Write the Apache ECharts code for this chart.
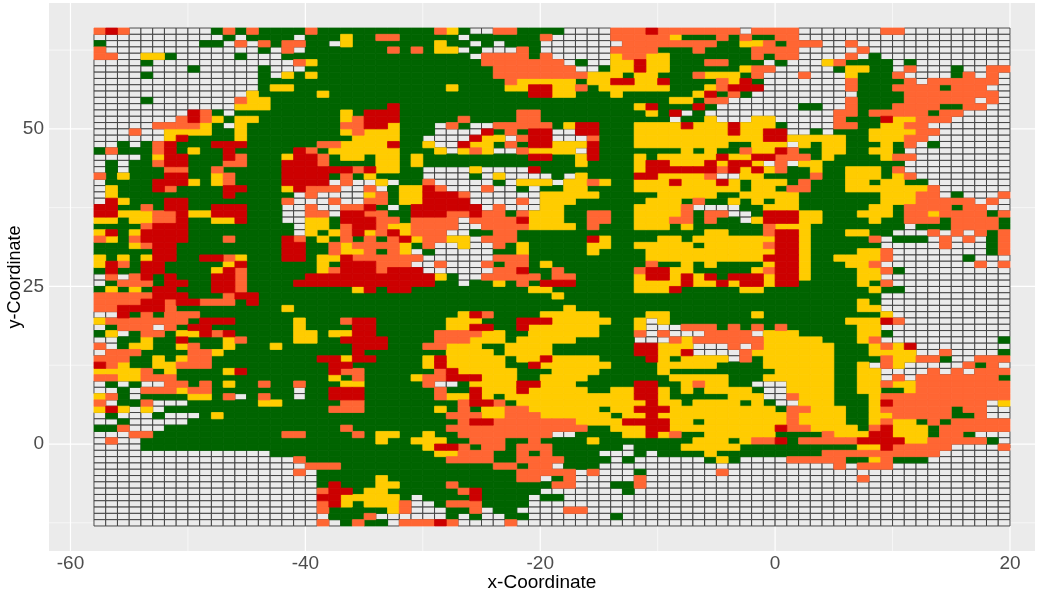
<!DOCTYPE html>
<html><head><meta charset="utf-8">
<style>html,body{margin:0;padding:0;background:#fff}#c{width:1042px;height:594px}</style>
<script src="https://cdn.jsdelivr.net/npm/echarts@6/dist/echarts.min.js"></script>
</head><body><div id="c"></div>
<script>
// Run-length rows, top (y 65..66) to bottom (y -13..-12). W empty, G green, Y yellow, O orange, R red
const blockA=["ORO7WGOGO4GOG","11WGW4GW2G","G8W2GWOWOG2O2G","O13WGWOW2G","2O2W2YG5WG3W4G","4WG12WOYG","8WG5WG3W2G","4WG9WGWYGYG","14W6G","14WG2Y3G","13WY5GY","4WG7WO2Y5G","12W3Y5G","8WROGW8G","7WOROYG2Y6G","5W4OYGWY7G","3WO2W4Y2GY7G","6WYR4GY7G","2WGWGOR3G3R6GO","GO3GORGY2GR5GROG","4WGY2R3GRO3GY2RO","WGW2GO2R3G2O3G3RO","WGW3G2O2GO5G4R","OGY3G2R2GYO4G4R","W4G3RYGYO4G4R","WY3GRO4G2R3GYR2O","WY9GR5GWOW","WRY3G2R8GO3W","2R2GOG2R2G3R3G2WOW","2R3Y2OR2Y3R3G2W2O","2YG2Y2OR2G2YR3G2W2Y","4GO3R9GW2Y","YRGY4R9GWYG","OYGO4R3GO4GROGY","3GYO2R9G2R2G","5G2R9G2R2G","YGYGY2R2G2ROY3G2RGY","YROG2R5GYR6GY","GR2G2R4GYRO6GY","WOWORGR3G2RO5G2R","WG3OG2R2G2RO4G3R","GYGYG2R3G2RO7G","5O3R3GO2R6G","4O2RO2R3OGR6G","2O4RO9GY3G","2WRGOG3O11G","Y7OG3R5GY2G","WG3OWOG2R7GY2G","GYWG2OG2YROR5G2YG","2W2GY2GR3GYO4G2YG","OWG2Y2GYO2GY3GY4G","W3O4G2OY9G","3O2GYGY2O9GR","ROY2G2Y3O10G","4YOGY4GYR7G","2O2Y3O13G","WGWG2W2OGOGY2GO2GO2G","2WGW3OY2O7GW2G","YOGW4G2YGOWGO2GW2G","OW2GO3W6G2Y4G","YRYWYW14G","WG3WG3WGY9G","2WG5W12G","2GO3W14G","3W2O11G2O2G","WO2W16G","4W16G","15W5G","17WO2G","18W2O","17WOWG","19WG","19WG","19WO","19WR","19WO","19WO","20W","19WO"];
const blockB=["9GOYG2W2O4G","GY2G2O5GW6GOW","WY7GY2GWGW3G2W","5GOGOG2YWG3WOG2W","12GW4OGOW","13G7O","14G6O","14G6O","15GO4Y","10GY4G2Y2RY","17G2RY","20G","5GR14G","GYG3R10G2O2G","GYO3R5GO4G2O2G","G2O2RY3GWOG2W5OG","GYO3Y3G4WRGOG2RW","2G4Y2G4WR2YWO2RW","O4YR2GY2WR2YGOG2RY","6Y3GYWYOY2WO3Y","G2YG2YGY9G2RG","4G2YGY12G","2ROR2Y2G4WY4WR2G","GOGY4G4WGWY4WG","WO2WYW2GO5WGW3YW","O2WOWG2YRO3WO2WGW2G","3WYOG2Y3RO6W2Y","O2W2OG2Y4R4WOW2Y","W2ORGWG6RWO3W2Y","W2R2O2G3R2OR2OGO3Y","G3R2OG4OW4OR3Y","GO2RO2Y4O2W4O3Y","YORYORY3O2W2G2O4G","GOGOGORY2O2YW3O4G","OY4OYGO2WY2WOGY3G","O2YOGOYWG5W2GY3G","YR6O6W3O3G","G3R3O2WO3WOG2OGYG","O3RO3R6W2OR2GO","9RYG2W5OGO","9R2GW2GYGOG2R","2GYRG2R10G2YG","19GY","20G","20G","11GYRO4G2Y","GO2R6G3Y3G3RY","2G2R6G2Y2R2GR3Y","2Y2R5G4O2Y2G3Y","G4R4G3O3YG4Y","2G3R3G2O3Y2G4YG","2GR7G4YG4YG","RY2R4GYR5YG2YRY","2R6GYR5Y2GR2Y","R2O6GOR5Y3GY","YGO4GY2O3R3Y2G2Y","G2Y5GO2WG4Y2R2Y","3R6GO2GR3YR3Y","3R6GO2YRYG5Y","G2O8GO2ROG4Y","3O6GYGOG2Y2O3Y","10G3O2Y3O2Y","11GO2R6O","GO8G10O","2GOG2Y2GY2G8OW","4GY2G3Y2G3O2GO2G","8GY2ROG2OG3OG","9G2Y3O2GOGOG","10G4O2G4O","O13G2OG2OW","16G4O","4GY11G2OWG","R3G2Y4GO8GO","2RG2Y6GOR5G2W","R5YGW4GR4GW2G","RYG3YO2WG3O4G3W","5GYO3W2GOW2G4W","3GO6WGWG2W2G3W","WGO2GW3ORO4WO4W"];
const blockC=["4W3OR7OW4O","4W5OY3GOGO2G2O","5W8O2G2YOGO","4W4O3GO4G4O","4WY2O2Y7GOG2O","WG2W2YR2Y3G2O3GWGW","O2WG2YR2Y6GY2O2W","2O3YG2Y3GO3YGO3W","YG2Y2R2YR4GOYRG3W","YOG6Y3GYO3R3W","Y3GY6GYRGOG4W","9G2YG2O6W","6GYR3GRG7W","7GYGRWG8W","9GW2GY3W2Y2W","Y2R3G4YR3YR3YGW","W2R3G8YR2Y2RW","2WO3G11Y2RY","2YR3G8Y2G3YW","YWR7GYGY2GO2YRO","GYR3GYG5YR2Y2R2O","GY4GY2R3YRY2RYWOW","6GY6RORYRYOG","WY4G2R4YO2W2Y3G","2YOY2G3YR3YRYG3YG","2Y4G9YG2YGO","3Y5G5Y2G5Y","Y6G3YGO2GYGYG2Y","6G4YO4W2G3Y","2G2O2G4YOG2O2WG3R","2G2O2G3Y2OGO2GWY3R","YGO3G3YGY6GO2Y","12G2Y3GO2R","2GRY4G2YG7Y2R","2G2Y2G5YG5YO2R","2GY4G11Y2R","7G10Y3R","7GO2GYGY4GY2R","6GO2R2Y5GYO2R","O5GY2RYRYRG3RY2R","R5G4YR2YRY2RY2R","6G3YR5G2Y3G","20G","20G","Y19G","3Y4G2Y7GY3G","4Y2GYWY11G","3Y3GY3W3OGOGOGOG","3Y3GOWO3W4OW3Y","Y5G3WOY6O3Y","6G2R3Y3WOWO3Y","6G2R2YR4WO4Y","3Y4GRYG4YWOG3Y","4Y4G5Y4G3Y","3Y5GY9G2Y","2Y7G5Y3G3Y","Y5G2R2GYO2Y2G3WY","2Y2G2Y2RYGYG4YG2WY","6Y2RY5G3Y2WO","7YR2YG4YGYG2W","3YG2Y3R9YGO","4YG2YR11YO","O4Y4R2YG7YO","2O2G3Y2R9YRO","W4G2YRYO2G6Y2G","2GY8G3YGY2ORG","5GW4G5Y5G","3G3WGW4GY7G","4GWG6WGYG4WO","3G17W","OWO3WG6WO6W","O5WO13W","O3W2GO13W","5WG14W","20W","20W","2O18W","4WG15W","20W"];
const blockD=["7W2O9W","18W","2O2WO13W","5WO12W","4WOWG11W","2WYO4GWG8W","3WG2Y2GWO3WG2W2O","O3WY3GO4WGOWOW","4WO4GOW6OW","4WO3G4OG3O2W","5W4G8OW","4WO4G6OWOW","2G2WO3G4O2G2O2W","3W2OG5OG2O4W","3WO3GR2Y3O5W","3W2O2G2Y2O7W","WGW3G4Y2O6W","4Y2G3Y2O7W","YG2Y3GYGOWG6W","2G2Y2G2YG9W","OGY4GY2O8W","2Y7G9W","GY2G3YGO9W","GO2G3YGYO8W","O3G2YG2Y2G7W","O3G7YO6W","7G3Y2OWG3WO","7G3Y5OWOW","6G2YG4OG2O2W","2Y3G3YG2OY4OGO","2Y4GY2G3OG4OG","Y8GW3G4OG","Y3G2Y2G3WOWOWOGO","Y5GOW3GWOWOWGO","Y6G5WO3WGO","Y4G2YO8WGO","Y2G4YO6WG3W","Y3G2YO8WOWO","Y4G2YOG9W","Y4G2Y11W","5GYGO10W","6GY2G9W","7G11W","5GYG11W","5G2Y11W","7GY10W","4G3YRO9W","5G2Y11W","5G2YG10W","2Y3GYO10WG","3Y3GYOYR8W","3Y3G4Y2WO4WG","3Y4GO2Y2OG2W3O","3Y2GYWOY5WOGOW","3Y2G2Y4WOWOW3O","3Y2G2YWOW7OG","3Y2G2YO2Y8O","3Y2G2Y2GY8O","3Y3GY11O","3Y3GYR8OWY","O3Y2GY6OG2O2W","4Y2G2Y5O2GO2W","4Y2GYO2YGOG5O","O4YGOR3YG6O","2GO3Y2R3YG2OG3W","5O4R2Y5OGW","5G2YR5O4WO","2G10O6W","4O2GYO3G7W","3WOW3O10W","18W","5WO12W","18W","18W","18W","18W","18W","18W","18W"];
const xMajor=[-60,-40,-20,0,20], xMinor=[-50,-30,-10,10];
const yMajor=[0,25,50], yMinor=[-12.5,12.5,37.5,62.5];
const xLeft=-58, yTop=66;
const xMin=-61.83, xMax=22.13, yMin=-16.97, yMax=69.97;
const colors={W:'#EBEBEB',G:'#006400',Y:'#FFCC00',O:'#FF6633',R:'#CC0000'};
const expand=(s,n)=>{let o='';s.replace(/(\d*)([WGYOR])/g,(m,c,l)=>{o+=l.repeat(c?+c:1);return m;});return o.padEnd(n,'W').slice(0,n);};
const cells={W:[],G:[],Y:[],O:[],R:[]};
blockA.forEach((_,r)=>{
  const row=expand(blockA[r],20)+expand(blockB[r],20)+expand(blockC[r],20)+expand(blockD[r],18);
  [...row].forEach((k,c)=>cells[k].push([xLeft+c,yTop-r-1]));
});
const tile=(k)=>({type:'custom',coordinateSystem:'cartesian2d',animation:false,silent:true,clip:false,progressive:0,
  encode:{x:0,y:1},data:cells[k],
  renderItem:(p,api)=>{
    const a=api.coord([api.value(0),api.value(1)+1]), b=api.coord([api.value(0)+1,api.value(1)]);
    return {type:'rect',shape:{x:a[0],y:a[1],width:b[0]-a[0],height:b[1]-a[1]},
      style:{fill:colors[k],stroke:k==='W'?'#3A3A3A':colors[k],lineWidth:k==='W'?0.9:0.8}};
  }});
const lines=(vals,vertical,w)=>({type:'custom',coordinateSystem:'cartesian2d',animation:false,silent:true,progressive:0,
  encode:{x:0,y:1},data:vals.map(v=>vertical?[v,yMin]:[xMin,v]),
  renderItem:(p,api)=>{
    const a=api.coord([api.value(0),api.value(1)]);
    const b=vertical?api.coord([api.value(0),yMax]):api.coord([xMax,api.value(1)]);
    return {type:'line',shape:{x1:a[0],y1:a[1],x2:b[0],y2:b[1]},style:{stroke:'#FFFFFF',lineWidth:w}};
  }});
const chart=echarts.init(document.getElementById('c'),null,{renderer:'canvas'});
const axisCommon={type:'value',nameLocation:'middle',nameMoveOverlap:false,
  axisLine:{show:false},splitLine:{show:false},
  axisTick:{show:true,length:4,lineStyle:{color:'#333333',width:1}},
  axisLabel:{color:'#4D4D4D',fontFamily:'Liberation Sans',fontSize:19,margin:3}};
chart.setOption({
  animation:false,backgroundColor:'#fff',
  grid:{left:49,right:7,top:3,bottom:43,show:true,backgroundColor:'#EBEBEB',borderWidth:0,outerBoundsMode:'none'},
  xAxis:{...axisCommon,name:'x-Coordinate',nameGap:22,min:xMin,max:xMax,
    nameTextStyle:{color:'#000',fontFamily:'Liberation Sans',fontSize:19},
    axisTick:{...axisCommon.axisTick,customValues:xMajor},
    axisLabel:{...axisCommon.axisLabel,customValues:xMajor,showMinLabel:true,showMaxLabel:true}},
  yAxis:{...axisCommon,name:'y-Coordinate',nameGap:25,min:yMin,max:yMax,
    nameTextStyle:{color:'#000',fontFamily:'Liberation Sans',fontSize:18},
    axisTick:{...axisCommon.axisTick,customValues:yMajor},
    axisLabel:{...axisCommon.axisLabel,customValues:yMajor,margin:5}},
  series:[lines(xMinor,true,0.6),lines(yMinor,false,0.6),lines(xMajor,true,1.2),lines(yMajor,false,1.2),
    tile('W'),tile('G'),tile('Y'),tile('O'),tile('R')]
});
</script></body></html>
